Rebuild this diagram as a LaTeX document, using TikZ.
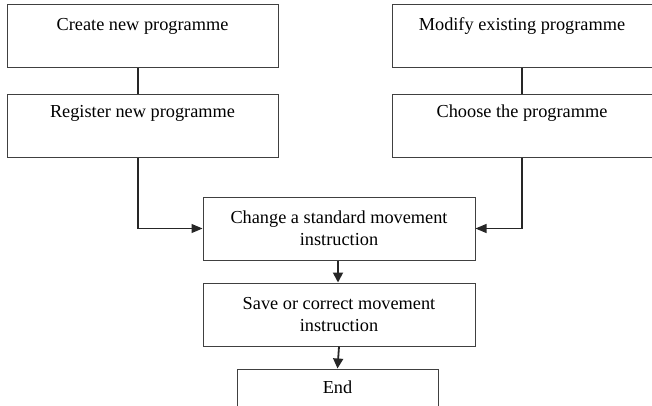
\documentclass[tikz,border=0pt]{standalone}
\usepackage{fontspec}
\setmainfont{Liberation Serif}
\usetikzlibrary{arrows.meta}
\begin{document}
\begin{tikzpicture}[x=1pt,y=-1pt,
  box/.style={draw=black!75,line width=1pt,rectangle,inner sep=0pt},
  label/.style={font=\fontsize{18.3}{22}\selectfont,align=center,inner sep=0pt},
  link/.style={draw=black!85,line width=1.2pt},
  flow/.style={link,-{Triangle[length=11pt,width=9pt]}},
  mainflow/.style={flow,line width=1.8pt,-{Triangle[length=10pt,width=10pt]}}]
\useasboundingbox (0,0) rectangle (652,406);
\clip (0,0) rectangle (652,406);
% upper left column
\node[box,minimum width=271,minimum height=63] (create) at (142.5,36.5) {};
\node[label,anchor=base] (createtxt) at (142.5,31) {Create new programme};
\node[box,minimum width=271,minimum height=62] (register) at (142.5,126) {};
\node[label,anchor=base] (registertxt) at (142.5,118) {Register new programme};
% upper right column
\node[box,minimum width=270,minimum height=63] (modify) at (527,36.5) {};
\node[label,anchor=base] (modifytxt) at (522,31) {Modify existing programme};
\node[box,minimum width=270,minimum height=62] (choose) at (527,126) {};
\node[label,anchor=base] (choosetxt) at (522,118) {Choose the programme};
% main flow
\node[box,minimum width=272,minimum height=63,label] (change) at (339,228.5)
  {Change a standard movement\\instruction};
\node[box,minimum width=272,minimum height=63,label] (save) at (339,314.5)
  {Save or correct movement\\instruction};
\node[box,minimum width=201,minimum height=42,label] (end) at (337.5,390) {};
\node[label,anchor=base] (endtxt) at (337.5,393) {End};
% connectors
\draw[link] (138,68) coordinate (c1) -- (c1 |- register.north);
\draw[link] (522,68) coordinate (c2) -- (c2 |- choose.north);
\draw[flow] (register.south -| c1) |- (change.west);
\draw[flow] (choose.south -| c2) |- (change.east);
\draw[mainflow] (change.south -| 338,0) coordinate (c3) -- (c3 |- save.north);
\draw[mainflow] (save.south) -- (end.north);
\end{tikzpicture}
\end{document}
